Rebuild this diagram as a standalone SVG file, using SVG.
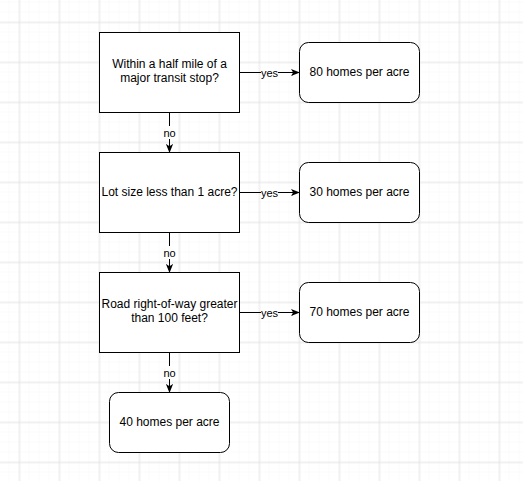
<svg xmlns="http://www.w3.org/2000/svg" width="523" height="481" viewBox="0 0 523 481">
<defs>
<pattern id="minor" width="10" height="10" patternUnits="userSpaceOnUse" x="-0.5" y="2.5">
<path d="M10 0V10M0 10H10" fill="none" stroke="#f5f5f5" stroke-width="1"/>
</pattern>
<pattern id="major" width="40" height="40" patternUnits="userSpaceOnUse" x="-0.5" y="2.5">
<path d="M20 0V40M0 20H40" fill="none" stroke="#e4e4e4" stroke-width="1"/>
</pattern>
<marker id="arr" viewBox="0 0 10 10" refX="9" refY="5" markerWidth="9" markerHeight="9" markerUnits="userSpaceOnUse" orient="auto">
<path d="M0 1 L10 5 L0 9 L2.5 5 Z" fill="#000"/>
</marker>
<style>
.box{fill:#fff;stroke:#000;stroke-width:1}
.t{font-family:"Liberation Sans",Arial,sans-serif;font-size:12px;fill:#000;text-anchor:middle}
.l{font-family:"Liberation Sans",Arial,sans-serif;font-size:11px;fill:#000;text-anchor:middle}
.c{fill:none;stroke:#000;stroke-width:1;marker-end:url(#arr)}
.lb{fill:#fff}
</style>
</defs>
<rect width="523" height="481" fill="#fff"/>
<rect width="523" height="481" fill="url(#minor)"/>
<rect width="523" height="481" fill="url(#major)"/>

<g id="connectors">
<path class="c" d="M239.5 72.5H299"/>
<rect class="lb" x="261" y="66" width="17" height="12"/>
<text class="l" x="269.5" y="76.5">yes</text>
<path class="c" d="M169.5 112.5V152"/>
<rect class="lb" x="162" y="126" width="15" height="13"/>
<text class="l" x="169.5" y="136.5">no</text>
<path class="c" d="M239.5 192.5H299"/>
<rect class="lb" x="261" y="186" width="17" height="12"/>
<text class="l" x="269.5" y="196.5">yes</text>
<path class="c" d="M169.5 232.5V272"/>
<rect class="lb" x="162" y="246" width="15" height="13"/>
<text class="l" x="169.5" y="256.5">no</text>
<path class="c" d="M239.5 312.5H299"/>
<rect class="lb" x="261" y="306" width="17" height="12"/>
<text class="l" x="269.5" y="316.5">yes</text>
<path class="c" d="M169.5 352.5V392"/>
<rect class="lb" x="162" y="366" width="15" height="13"/>
<text class="l" x="169.5" y="376.5">no</text>
</g>

<g id="q1">
<rect class="box" x="99.5" y="32.5" width="140" height="80"/>
<text class="t" x="169.5" y="68">Within a half mile of a</text>
<text class="t" x="169.5" y="82">major transit stop?</text>
</g>
<g id="r80">
<rect class="box" x="299.5" y="42.5" width="120" height="60" rx="9" ry="9"/>
<text class="t" x="359.5" y="76">80 homes per acre</text>
</g>
<g id="q2">
<rect class="box" x="99.5" y="152.5" width="140" height="80"/>
<text class="t" x="169.5" y="196">Lot size less than 1 acre?</text>
</g>
<g id="r30">
<rect class="box" x="299.5" y="162.5" width="120" height="60" rx="9" ry="9"/>
<text class="t" x="359.5" y="196">30 homes per acre</text>
</g>
<g id="q3">
<rect class="box" x="99.5" y="272.5" width="140" height="80"/>
<text class="t" x="169.5" y="308">Road right-of-way greater</text>
<text class="t" x="169.5" y="322">than 100 feet?</text>
</g>
<g id="r70">
<rect class="box" x="299.5" y="282.5" width="120" height="60" rx="9" ry="9"/>
<text class="t" x="359.5" y="316">70 homes per acre</text>
</g>
<g id="r40">
<rect class="box" x="109.5" y="392.5" width="120" height="60" rx="9" ry="9"/>
<text class="t" x="169.5" y="426">40 homes per acre</text>
</g>
</svg>
